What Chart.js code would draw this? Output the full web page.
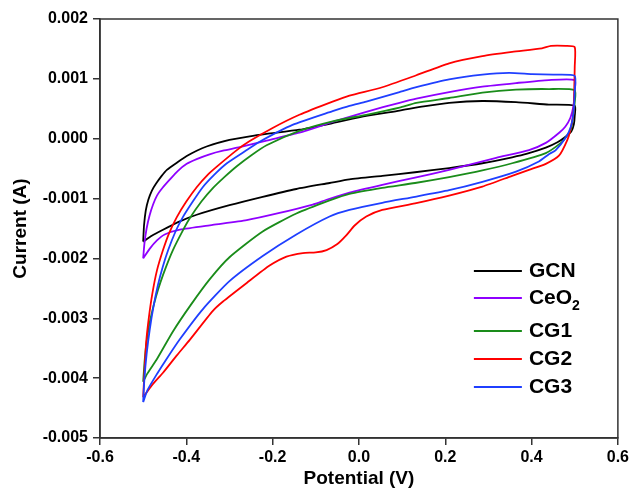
<!DOCTYPE html>
<html>
<head>
<meta charset="utf-8">
<title>CV curves</title>
<script src="https://cdn.jsdelivr.net/npm/chart.js@4.4.1/dist/chart.umd.min.js"></script>
<style>
  html, body { margin: 0; padding: 0; background: #fff; }
  #wrap { width: 632px; height: 491px; }
</style>
</head>
<body>
<div id="wrap"><canvas id="cvChart" width="632" height="491"></canvas></div>
<script>
const seriesNames = ["GCN", "CeO₂", "CG1", "CG2", "CG3"];
const seriesColors = ["#000000", "#8f00ff", "#1a8c1a", "#ff0000", "#1f3fff"];

const xTicks = [-0.6, -0.4, -0.2, 0.0, 0.2, 0.4, 0.6];
const yTicks = [-0.005, -0.004, -0.003, -0.002, -0.001, 0.0, 0.001, 0.002];

// each loop starts at -0.5 V, goes up to 0.5 V (anodic) and back (cathodic)
// potential in V, current in mA

const gcnPotential = [
  -0.5, -0.498, -0.494, -0.488, -0.48, -0.47, -0.458, -0.445, -0.422, -0.399,
  -0.376, -0.353, -0.3, -0.253, -0.214, -0.138, -0.061, 0.017, 0.094, 0.15,
  0.209, 0.286, 0.364, 0.44, 0.5,
  0.5, 0.498, 0.492, 0.478, 0.46, 0.433, 0.39, 0.355, 0.286, 0.209,
  0.13, 0.054, -0.022, -0.068, -0.145, -0.223, -0.3, -0.376, -0.415, -0.454,
  -0.48, -0.5,
];
const gcnCurrent = [
  -1.72, -1.45, -1.2, -1.02, -0.87, -0.75, -0.63, -0.52, -0.4, -0.29,
  -0.2, -0.13, -0.02, 0.04, 0.08, 0.15, 0.26, 0.38, 0.47, 0.54,
  0.6, 0.63, 0.61, 0.57, 0.55,
  0.38, 0.24, 0.12, 0.03, -0.06, -0.15, -0.25, -0.31, -0.41, -0.49,
  -0.56, -0.62, -0.68, -0.74, -0.84, -0.97, -1.11, -1.27, -1.38, -1.52,
  -1.62, -1.72,
];

const ceo2Potential = [
  -0.5, -0.497, -0.492, -0.485, -0.477, -0.468, -0.455, -0.438, -0.42, -0.399,
  -0.376, -0.346, -0.315, -0.276, -0.214, -0.138, -0.061, 0.017, 0.094, 0.133,
  0.209, 0.286, 0.364, 0.44, 0.5,
  0.5, 0.497, 0.49, 0.478, 0.464, 0.433, 0.394, 0.318, 0.209, 0.13, 0.054,
  -0.022, -0.075, -0.107, -0.184, -0.26, -0.339, -0.415, -0.45, -0.468, -0.485,
  -0.5,
];
const ceo2Current = [
  -2.0, -1.75, -1.5, -1.28, -1.1, -0.95, -0.82, -0.68, -0.54, -0.42,
  -0.34, -0.26, -0.2, -0.14, -0.03, 0.1, 0.28, 0.45, 0.6, 0.67,
  0.78, 0.87, 0.93, 0.98, 0.98,
  0.8, 0.55, 0.35, 0.2, 0.1, -0.07, -0.19, -0.32, -0.52, -0.65, -0.77,
  -0.9, -1.02, -1.1, -1.24, -1.36, -1.44, -1.52, -1.6, -1.7, -1.84,
  -2.0,
];

const cg1Potential = [
  -0.5, -0.497, -0.493, -0.487, -0.479, -0.47, -0.46, -0.447, -0.431, -0.41,
  -0.392, -0.365, -0.339, -0.31, -0.283, -0.25, -0.214, -0.138, -0.061, 0.017,
  0.094, 0.133, 0.209, 0.286, 0.364, 0.44, 0.5,
  0.5, 0.496, 0.491, 0.48, 0.468, 0.433, 0.355, 0.286, 0.209, 0.13, 0.054,
  -0.022, -0.068, -0.145, -0.223, -0.3, -0.346, -0.39, -0.431, -0.468, -0.49,
  -0.5,
];
const cg1Current = [
  -4.06, -3.75, -3.45, -3.15, -2.88, -2.63, -2.4, -2.14, -1.86, -1.56,
  -1.33, -1.05, -0.83, -0.63, -0.46, -0.28, -0.11, 0.13, 0.29, 0.4,
  0.52, 0.6, 0.68, 0.77, 0.82, 0.83, 0.81,
  0.6, 0.35, 0.15, 0.03, -0.07, -0.24, -0.41, -0.53, -0.64, -0.74, -0.82,
  -0.92, -1.03, -1.25, -1.55, -1.98, -2.35, -2.78, -3.22, -3.68, -3.92,
  -4.06,
];

const cg2Potential = [
  -0.5, -0.497, -0.493, -0.487, -0.479, -0.468, -0.454, -0.44, -0.422, -0.4,
  -0.376, -0.35, -0.33, -0.283, -0.253, -0.2, -0.138, -0.061, -0.022, 0.054,
  0.133, 0.209, 0.286, 0.355, 0.424, 0.445, 0.479, 0.5,
  0.5, 0.499, 0.497, 0.49, 0.483, 0.464, 0.433, 0.394, 0.355, 0.286, 0.209,
  0.13, 0.054, 0.017, -0.01, -0.03, -0.05, -0.075, -0.1, -0.13, -0.168,
  -0.207, -0.26, -0.315, -0.339, -0.392, -0.422, -0.454, -0.48, -0.5,
];
const cg2Current = [
  -4.32, -3.9, -3.4, -3.0, -2.6, -2.2, -1.86, -1.58, -1.31, -1.05,
  -0.81, -0.6, -0.47, -0.19, -0.04, 0.18, 0.4, 0.62, 0.72, 0.86,
  1.06, 1.26, 1.38, 1.45, 1.51, 1.55, 1.55, 1.53,
  1.2, 0.86, 0.43, 0.15, -0.02, -0.28, -0.42, -0.52, -0.62, -0.8, -0.95,
  -1.08, -1.19, -1.3, -1.45, -1.62, -1.76, -1.86, -1.9, -1.91, -1.97,
  -2.12, -2.41, -2.72, -2.88, -3.36, -3.62, -3.91, -4.12, -4.32,
];

const cg3Potential = [
  -0.5, -0.497, -0.492, -0.485, -0.476, -0.466, -0.455, -0.442, -0.425, -0.408,
  -0.385, -0.362, -0.335, -0.306, -0.26, -0.23, -0.154, -0.061, -0.022, 0.017,
  0.094, 0.133, 0.209, 0.286, 0.348, 0.401, 0.45, 0.5,
  0.5, 0.497, 0.491, 0.48, 0.456, 0.44, 0.417, 0.364, 0.286, 0.209, 0.13,
  0.054, -0.022, -0.068, -0.145, -0.223, -0.3, -0.362, -0.415, -0.445, -0.468,
  -0.49, -0.5,
];
const cg3Current = [
  -4.4, -4.0, -3.6, -3.2, -2.8, -2.45, -2.15, -1.86, -1.55, -1.31,
  -1.05, -0.81, -0.6, -0.41, -0.19, -0.05, 0.23, 0.46, 0.55, 0.62,
  0.78, 0.86, 0.99, 1.07, 1.1, 1.08, 1.07, 1.05,
  0.8, 0.43, 0.2, 0.03, -0.19, -0.26, -0.38, -0.55, -0.72, -0.86, -0.97,
  -1.07, -1.19, -1.3, -1.6, -1.96, -2.38, -2.85, -3.35, -3.67, -3.93,
  -4.2, -4.4,
];

const potentials = [gcnPotential, ceo2Potential, cg1Potential, cg2Potential, cg3Potential];
const currents = [gcnCurrent, ceo2Current, cg1Current, cg2Current, cg3Current];

function toPoints(pot, cur) {
  // mA -> A
  return pot.map((v, i) => ({ x: v, y: cur[i] / 1000 }));
}

const FONT = "'Liberation Sans', Arial, sans-serif";
const AXIS_COLOR = "#333333";

// box around the plot + legend in the lower right
const framePlugin = {
  id: "frameAndLegend",
  afterDraw(chart) {
    const { ctx, chartArea: a } = chart;
    ctx.save();
    ctx.strokeStyle = AXIS_COLOR;
    ctx.lineWidth = 1.5;
    ctx.strokeRect(a.left, a.top, a.right - a.left, a.bottom - a.top);

    const rowOffsets = [252, 279, 312, 340, 368];
    const lineX0 = a.right - 144;
    const lineX1 = a.right - 96;
    const textX = a.right - 89;
    ctx.textBaseline = "middle";
    ctx.textAlign = "left";
    seriesNames.forEach((name, i) => {
      const y = a.top + rowOffsets[i];
      ctx.strokeStyle = seriesColors[i];
      ctx.lineWidth = 1.8;
      ctx.beginPath();
      ctx.moveTo(lineX0, y);
      ctx.lineTo(lineX1, y);
      ctx.stroke();
      ctx.fillStyle = "#000";
      ctx.font = "bold 21px " + FONT;
      if (name.includes("₂")) {
        const base = name.replace("₂", "");
        ctx.fillText(base, textX, y);
        const w = ctx.measureText(base).width;
        ctx.font = "bold 14px " + FONT;
        ctx.fillText("2", textX + w, y + 8);
      } else {
        ctx.fillText(name, textX, y);
      }
    });
    ctx.restore();
  },
};

new Chart(document.getElementById("cvChart"), {
  type: "scatter",
  data: {
    datasets: seriesNames.map((name, i) => ({
      label: name,
      data: toPoints(potentials[i], currents[i]),
      showLine: true,
      borderColor: seriesColors[i],
      backgroundColor: seriesColors[i],
      borderWidth: 1.8,
      pointRadius: 0,
      tension: 0.2,
      order: seriesNames.length - i,
    })),
  },
  options: {
    responsive: false,
    devicePixelRatio: 1,
    animation: false,
    layout: { padding: { top: 19, right: 13, left: 0, bottom: 0 } },
    plugins: {
      legend: { display: false },
      tooltip: { enabled: false },
    },
    scales: {
      x: {
        type: "linear",
        min: -0.6,
        max: 0.6,
        afterBuildTicks: (s) => {
          s.ticks = xTicks.map((v) => ({ value: v }));
        },
        afterFit: (s) => {
          s.height = 53;
        },
        ticks: {
          color: "#000",
          padding: 3,
          font: { family: FONT, size: 16, weight: "bold" },
          callback: (v) => Number(v).toFixed(1),
        },
        grid: {
          drawOnChartArea: false,
          drawTicks: true,
          tickLength: 7,
          color: AXIS_COLOR,
          lineWidth: 1.5,
        },
        border: { display: true, color: AXIS_COLOR, width: 1.5 },
        title: {
          display: true,
          text: "Potential (V)",
          color: "#000",
          font: { family: FONT, size: 19, weight: "bold" },
          padding: { top: 0, bottom: 1 },
        },
      },
      y: {
        type: "linear",
        min: -0.005,
        max: 0.002,
        afterBuildTicks: (s) => {
          s.ticks = yTicks.map((v) => ({ value: v }));
        },
        afterFit: (s) => {
          s.width = 100;
        },
        ticks: {
          color: "#000",
          padding: 5,
          font: { family: FONT, size: 16, weight: "bold" },
          callback: (v) => Number(v).toFixed(3),
        },
        grid: {
          drawOnChartArea: false,
          drawTicks: true,
          tickLength: 7,
          color: AXIS_COLOR,
          lineWidth: 1.5,
        },
        border: { display: true, color: AXIS_COLOR, width: 1.5 },
        title: {
          display: true,
          text: "Current (A)",
          color: "#000",
          font: { family: FONT, size: 19, weight: "bold" },
          padding: { top: 9, bottom: 0 },
        },
      },
    },
  },
  plugins: [framePlugin],
});
</script>
</body>
</html>
